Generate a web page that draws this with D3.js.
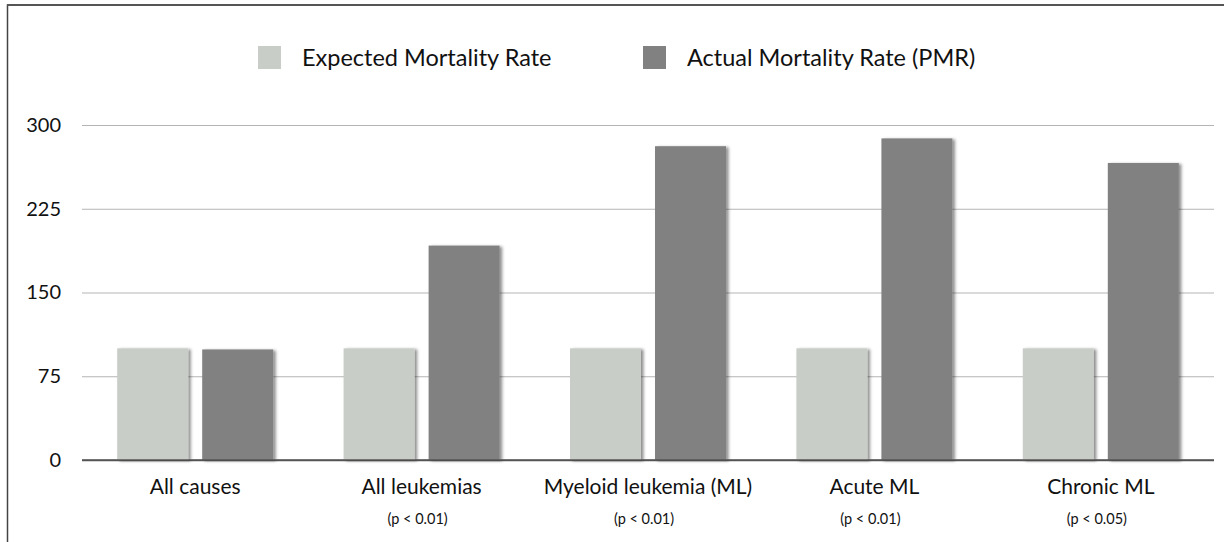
<!DOCTYPE html>
<html>
<head>
<meta charset="utf-8">
<script src="https://cdn.jsdelivr.net/npm/d3@7"></script>
<style>
  html, body { margin: 0; padding: 0; background: #fff; }
  svg { display: block; font-family: Lato, "Open Sans", sans-serif; }
</style>
</head>
<body>
<div id="chart"></div>
<script>
// ── data ────────────────────────────────────────────
const categories = ['All causes', 'All leukemias', 'Myeloid leukemia (ML)', 'Acute ML', 'Chronic ML'];
const pValues    = ['', '(p < 0.01)', '(p < 0.01)', '(p < 0.01)', '(p < 0.05)'];
const seriesNames = ['Expected Mortality Rate', 'Actual Mortality Rate (PMR)'];
const expected   = [100, 100, 100, 100, 100];
const actual     = [99, 192, 281, 288, 266];
const yTicks     = [0, 75, 150, 225, 300];

const LIGHT = '#c9cdc8';
const DARK  = '#818181';

const W = 1224, H = 542;
const margin = { top: 125, right: 10, bottom: 82, left: 82 };

const svg = d3.select('#chart').append('svg')
  .attr('width', W).attr('height', H);

// soft drop shadow under bars
const defs = svg.append('defs');
defs.append('filter').attr('id', 'shadow')
  .attr('x', '-10%').attr('y', '-10%').attr('width', '130%').attr('height', '130%')
  .append('feDropShadow')
    .attr('dx', 2.5).attr('dy', 1).attr('stdDeviation', 1.6)
    .attr('flood-color', '#000').attr('flood-opacity', 0.45);

// frame: top + left edges
svg.append('path')
  .attr('d', `M7.5,${H} V5 H${W}`)
  .attr('fill', 'none').attr('stroke', '#444').attr('stroke-width', 1.5);
svg.append('line')
  .attr('x1', 7).attr('x2', W).attr('y1', 5).attr('y2', 5)
  .attr('stroke', '#555').attr('stroke-width', 2.2);

// ── scales ──
const x0 = d3.scaleBand().domain(categories)
  .range([margin.left, W - margin.right]).padding(0);
const x1 = d3.scaleBand().domain(seriesNames)
  .range([0, x0.bandwidth()]).paddingInner(0.165).paddingOuter(0.414);
const y = d3.scaleLinear().domain([0, 300]).range([H - margin.bottom, margin.top]);

// ── grid + y labels ──
const yAxis = svg.append('g')
  .attr('transform', `translate(${margin.left},0)`)
  .call(d3.axisLeft(y).tickValues(yTicks).tickSize(-(W - margin.right - margin.left)).tickPadding(21));
yAxis.select('.domain').remove();
yAxis.selectAll('.tick line')
  .attr('stroke', d => d === 0 ? '#555' : '#b5b5b5')
  .attr('stroke-width', d => d === 0 ? 1.5 : 1);
yAxis.selectAll('.tick text')
  .attr('font-family', 'Lato, sans-serif')
  .attr('font-size', 20)
  .attr('fill', '#111');

// ── bars ──
const rows = categories.map((c, i) => ({ cat: c, vals: [expected[i], actual[i]] }));

const groups = svg.append('g').selectAll('g')
  .data(rows)
  .join('g')
    .attr('transform', d => `translate(${x0(d.cat)},0)`);

groups.selectAll('rect')
  .data(d => d.vals.map((v, j) => ({ key: seriesNames[j], v })))
  .join('rect')
    .attr('x', d => x1(d.key))
    .attr('y', d => y(d.v))
    .attr('width', x1.bandwidth())
    .attr('height', d => y(0) - y(d.v))
    .attr('fill', d => d.key === seriesNames[0] ? LIGHT : DARK)
    .attr('filter', 'url(#shadow)');

// baseline back on top
svg.append('line')
  .attr('x1', margin.left).attr('x2', W - margin.right)
  .attr('y1', y(0)).attr('y2', y(0))
  .attr('stroke', '#555').attr('stroke-width', 1.5);

// ── category labels ──
const catG = svg.append('g');
catG.selectAll('text.cat')
  .data(categories)
  .join('text')
    .attr('class', 'cat')
    .attr('x', d => x0(d) + x0.bandwidth() / 2)
    .attr('y', 494)
    .attr('text-anchor', 'middle')
    .attr('font-size', 21)
    .attr('fill', '#111')
    .text(d => d);

catG.selectAll('text.p')
  .data(categories.map((c, i) => ({ c, p: pValues[i] })))
  .join('text')
    .attr('class', 'p')
    .attr('x', d => x0(d.c) + x0.bandwidth() / 2 - 4)
    .attr('y', 524)
    .attr('text-anchor', 'middle')
    .attr('font-size', 14.5)
    .attr('fill', '#111')
    .text(d => d.p);

// ── legend ──
const legendX = [258, 643];
const legend = svg.append('g').selectAll('g')
  .data(seriesNames)
  .join('g')
    .attr('transform', (d, i) => `translate(${legendX[i]},46)`);
legend.append('rect')
  .attr('width', 23).attr('height', 23)
  .attr('fill', (d, i) => i === 0 ? LIGHT : DARK);
legend.append('text')
  .attr('x', 44).attr('y', 20)
  .attr('font-size', 23.5)
  .attr('fill', '#111')
  .text(d => d);
</script>
</body>
</html>
